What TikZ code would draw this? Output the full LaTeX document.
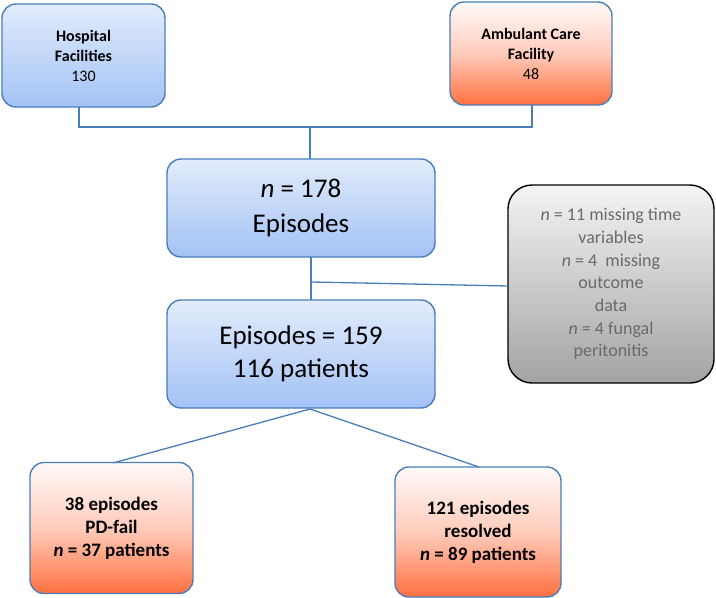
\documentclass[tikz,border=0pt]{standalone}
\usepackage{fontspec}
\setmainfont{Carlito}
\begin{document}
\begin{tikzpicture}[x=1pt,y=-1pt,
  bluebox/.style={draw=bordblue, line width=1.4pt, rounded corners=14pt, top color=blueTop, bottom color=blueBot, align=center, inner sep=0pt},
  redbox/.style={draw=bordblue, line width=1.4pt, rounded corners=14pt, top color=redTop, bottom color=redBot, middle color=redMid, align=center, inner sep=0pt},
  graybox/.style={draw=black, line width=1.4pt, rounded corners=24pt, top color=grayTop, bottom color=grayBot, align=center, inner sep=0pt},
  conn/.style={draw=bordblue, line width=1.3pt}]
\definecolor{bordblue}{HTML}{4A7EBB}
\definecolor{blueTop}{HTML}{E2ECFC}
\definecolor{blueBot}{HTML}{A3C2F5}
\definecolor{redTop}{HTML}{FFFAF9}
\definecolor{redMid}{HTML}{FFCCBB}
\definecolor{redBot}{HTML}{FF7040}
\definecolor{grayTop}{HTML}{F4F4F4}
\definecolor{grayBot}{HTML}{A3A3A3}
\definecolor{graytext}{HTML}{6A6A6A}
\useasboundingbox (0,0) rectangle (716,598);

\node[bluebox, minimum width=163pt, minimum height=103pt, font=\fontsize{16}{20}\selectfont] (hosp) at (83.5,55.5)
  {\textbf{Hospital}\\ \textbf{Facilities}\\ 130};
\node[redbox, minimum width=162pt, minimum height=103pt, font=\fontsize{16}{20}\selectfont] (amb) at (531,53.5)
  {\textbf{Ambulant Care}\\ \textbf{Facility}\\ 48};
\node[bluebox, minimum width=268pt, minimum height=98pt, font=\fontsize{27}{35}\selectfont] (ep1) at (301,208)
  {\textit{n} = 178\\ Episodes};
\node[graybox, minimum width=206pt, minimum height=198pt, text=graytext, font=\fontsize{18}{22.7}\selectfont] (gray) at (611,284)
  {\textit{n} = 11 missing time\\ variables\\ \textit{n} = 4\ \ missing\\ outcome\\ data\\ \textit{n} = 4 fungal\\ peritonitis};
\node[bluebox, minimum width=268pt, minimum height=108pt, font=\fontsize{27}{33}\selectfont] (ep2) at (301,354)
  {Episodes = 159\\ 116 patients};
\node[redbox, minimum width=163pt, minimum height=131pt, font=\bfseries\fontsize{19}{23}\selectfont] (fail) at (111.5,528)
  {38 episodes\\ PD-fail\\ \textit{n} = 37 patients};
\node[redbox, minimum width=166pt, minimum height=130pt, font=\bfseries\fontsize{19}{23}\selectfont] (res) at (478,532)
  {121 episodes\\ resolved\\ \textit{n} = 89 patients};

\coordinate (h1) at (79,107);
\coordinate (h2) at (79,127);
\coordinate (a1) at (532,105);
\coordinate (a2) at (532,127);
\coordinate (j) at (310,127);
\coordinate (e1t) at (310,159);
\coordinate (e1b) at (311,257);
\coordinate (e2t) at (311,300);
\coordinate (br) at (312,282);
\coordinate (gw) at (508,286);
\coordinate (ap) at (310,409);
\coordinate (ft) at (113,463);
\coordinate (rt) at (479,467);

\draw[conn] (h1) -- (h2) -- (a2) -- (a1);
\draw[conn] (j) -- (e1t);
\draw[conn] (e1b) -- (e2t);
\draw[conn] (br) -- (gw);
\draw[conn] (ft) -- (ap) -- (rt);
\end{tikzpicture}
\end{document}
